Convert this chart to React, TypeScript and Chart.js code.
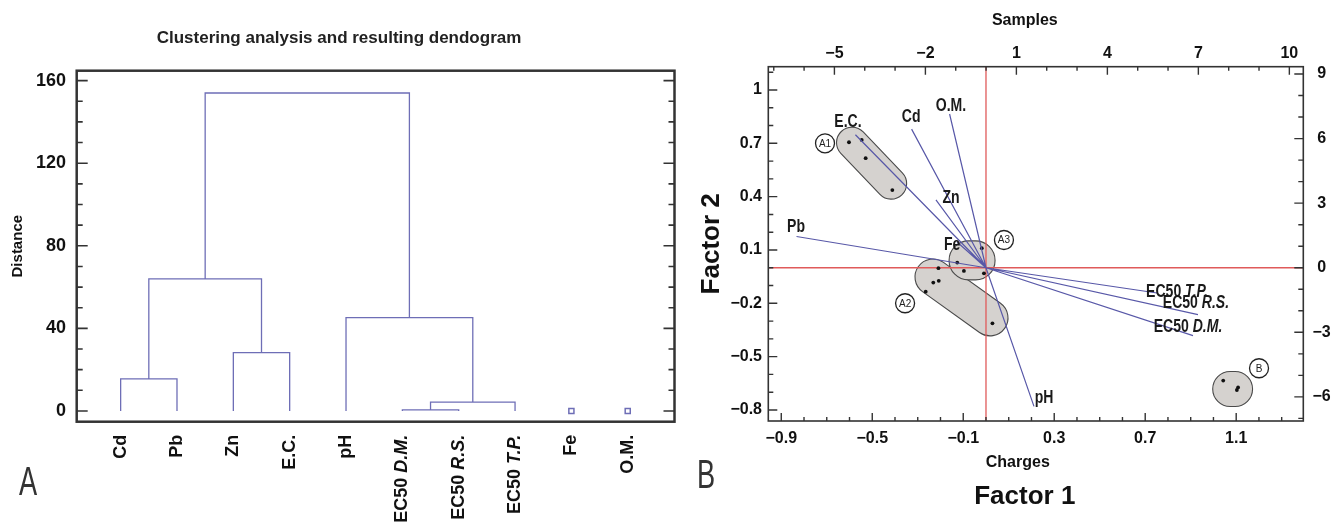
import React, { useEffect, useRef } from "react";
import { Chart, registerables } from "chart.js";

Chart.register(...registerables);

// ---------------- Panel A : dendrogram data ----------------
const leafNames = ["Cd", "Pb", "Zn", "E.C.", "pH", "EC50 ", "EC50 ", "EC50 ", "Fe", "O.M."];
const leafItalic = ["", "", "", "", "", "D.M.", "R.S.", "T.P.", "", ""];
// merges: node ids 0..9 are leaves, merge k creates node 10+k
const mergeLeft = [0, 2, 10, 5, 13, 4, 12];
const mergeRight = [1, 3, 11, 6, 7, 14, 15];
const mergeDistance = [15.5, 28.3, 64, 0.5, 4.3, 45.2, 154];
const unmergedLeaves = [8, 9];
const distanceTicks = [0, 40, 80, 120, 160];

// ---------------- Panel B : biplot data ----------------
const variableNames = ["Pb", "E.C.", "Cd", "O.M.", "Zn", "Fe", "pH", "EC50 ", "EC50 ", "EC50 "];
const variableItalic = ["", "", "", "", "", "", "", "T.P.", "R.S.", "D.M."];
const loadingF1 = [-0.833, -0.574, -0.327, -0.16, -0.22, -0.127, 0.211, 0.752, 0.932, 0.91];
const loadingF2 = [0.176, 0.748, 0.78, 0.865, 0.382, 0.145, -0.78, -0.142, -0.264, -0.382];
const labelF1 = [-0.835, -0.607, -0.329, -0.154, -0.154, -0.149, 0.255, 0.84, 0.923, 0.888];
const labelF2 = [0.23, 0.817, 0.85, 0.91, 0.393, 0.128, -0.732, -0.136, -0.198, -0.333];

const sampleS1 = [-4.52, -4.1, -3.97, -3.09, -0.14, -0.95, -0.73, -0.07, -1.57, -1.74, -1.56, -1.99, 0.21, 7.82, 8.27, 8.31];
const sampleS2 = [5.83, 5.94, 5.09, 3.61, 0.91, 0.24, -0.15, -0.26, -0.02, -0.69, -0.61, -1.11, -2.58, -5.24, -5.68, -5.56];

const clusterNames = ["A1", "A2", "A3", "B"];
const hullS1a = [-4.42, -1.75, -0.577, 8.05];
const hullS2a = [5.81, -0.43, 0.34, -5.63];
const hullS1b = [-3.13, 0.13, -0.346, 8.21];
const hullS2b = [3.91, -2.33, 0.34, -5.63];
const tagS1 = [-5.31, -2.67, 0.59, 9.0];
const tagS2 = [5.78, -1.65, 1.29, -4.67];

const chargeTicks = [-0.9, -0.5, -0.1, 0.3, 0.7, 1.1];
const factor2Ticks = [-0.8, -0.5, -0.2, 0.1, 0.4, 0.7, 1];
const sampleXTicks = [-5, -2, 1, 4, 7, 10];
const sampleYTicks = [-6, -3, 0, 3, 6, 9];

// ---------------- styling helpers ----------------
const FONT = '"Liberation Sans", Arial, Helvetica, sans-serif';
const HULL_RADIUS = [15.5, 18, 19.5, 17.5];

function hasFont(name: string) {
  const c = document.createElement("canvas").getContext("2d")!;
  c.font = "20px monospace";
  const a = c.measureText("abcdefghijklm 0123456789").width;
  c.font = `20px "${name}", monospace`;
  const b = c.measureText("abcdefghijklm 0123456789").width;
  return Math.abs(a - b) > 0.5;
}

function range(a: number, b: number, step: number) {
  const out: number[] = [];
  for (let v = a; v <= b + 1e-9; v += step) out.push(Math.round(v * 1000) / 1000);
  return out;
}
function minorsOf(all: number[], majors: number[]) {
  return all.filter((v) => !majors.some((m) => Math.abs(m - v) < 1e-6));
}
const fmt = (v: number) => String(Math.round(v * 100) / 100).replace("-", "\u2212");
const setTicks = (values: number[]) => (scale: any) => {
  scale.ticks = values.map((v) => ({ value: v }));
};

function drawTicks(ctx: CanvasRenderingContext2D, area: any, scale: any, side: string, values: number[], len: number) {
  ctx.beginPath();
  values.forEach((v) => {
    const p = scale.getPixelForValue(v);
    if (side === "left") { ctx.moveTo(area.left, p); ctx.lineTo(area.left + len, p); }
    if (side === "right") { ctx.moveTo(area.right, p); ctx.lineTo(area.right - len, p); }
    if (side === "top") { ctx.moveTo(p, area.top); ctx.lineTo(p, area.top + len); }
    if (side === "bottom") { ctx.moveTo(p, area.bottom); ctx.lineTo(p, area.bottom - len); }
  });
  ctx.stroke();
}

function drawMixed(ctx: CanvasRenderingContext2D, plain: string, italic: string, x: number, y: number, size: number, weight: string, sx: number) {
  const f1 = `${weight} ${size}px ${FONT}`;
  const f2 = `italic ${weight} ${size}px ${FONT}`;
  ctx.font = f1;
  const w1 = ctx.measureText(plain).width;
  ctx.font = f2;
  const w2 = italic ? ctx.measureText(italic).width : 0;
  ctx.save();
  ctx.translate(x, y);
  ctx.scale(sx, 1);
  ctx.textBaseline = "middle";
  ctx.textAlign = "left";
  const start = -(w1 + w2) / 2;
  ctx.font = f1;
  ctx.fillText(plain, start, 0);
  if (italic) { ctx.font = f2; ctx.fillText(italic, start + w1, 0); }
  ctx.restore();
}

function centeredText(ctx: CanvasRenderingContext2D, text: string, x: number, y: number, font: string) {
  ctx.font = font;
  ctx.textAlign = "center";
  ctx.textBaseline = "middle";
  ctx.fillText(text, x, y);
}

// ---------------- Panel A config ----------------
function buildDendrogram() {
  const nodeX: number[] = leafNames.map((_, i) => i + 1);
  const nodeH: number[] = leafNames.map(() => 0);
  const pts: any[] = [];
  mergeLeft.forEach((a, k) => {
    const b = mergeRight[k];
    const h = mergeDistance[k];
    pts.push({ x: nodeX[a], y: nodeH[a] }, { x: nodeX[a], y: h }, { x: nodeX[b], y: h }, { x: nodeX[b], y: nodeH[b] }, { x: nodeX[b], y: null });
    nodeX.push((nodeX[a] + nodeX[b]) / 2);
    nodeH.push(h);
  });
  return pts;
}

function configA(): any {
  const dendroColor = "#6e6eb6";
  const panelA = {
    id: "panelA",
    afterDraw(chart: any) {
      const { ctx, chartArea: area, scales } = chart;
      const xs = scales.x, ys = scales.y;
      ctx.save();
      ctx.strokeStyle = "#333";
      ctx.lineWidth = 2.5;
      ctx.strokeRect(area.left, area.top, area.right - area.left, area.bottom - area.top);
      ctx.lineWidth = 1.6;
      const minors = minorsOf(range(0, 160, 10), distanceTicks);
      drawTicks(ctx, area, ys, "left", distanceTicks, 11);
      drawTicks(ctx, area, ys, "left", minors, 6);
      drawTicks(ctx, area, ys, "right", distanceTicks, 11);
      drawTicks(ctx, area, ys, "right", minors, 6);
      // leaf labels, rotated
      ctx.fillStyle = "#111";
      leafNames.forEach((name, i) => {
        const x = xs.getPixelForValue(i + 1);
        const y = area.bottom + 13;
        const f1 = `bold 18px ${FONT}`;
        const f2 = `italic bold 18px ${FONT}`;
        ctx.font = f1;
        const w1 = ctx.measureText(name).width;
        ctx.font = f2;
        const w2 = leafItalic[i] ? ctx.measureText(leafItalic[i]).width : 0;
        ctx.save();
        ctx.translate(x, y);
        ctx.rotate(-Math.PI / 2);
        ctx.textBaseline = "middle";
        ctx.textAlign = "left";
        ctx.font = f1;
        ctx.fillText(name, -(w1 + w2), 0);
        if (w2) { ctx.font = f2; ctx.fillText(leafItalic[i], -w2, 0); }
        ctx.restore();
      });
      // panel letter
      ctx.fillStyle = "#333";
      ctx.save();
      ctx.translate(28, 484);
      ctx.scale(0.68, 1);
      ctx.font = `normal 40px ${FONT}`;
      ctx.textAlign = "center";
      ctx.textBaseline = "middle";
      ctx.fillText("A", 0, 0);
      ctx.restore();
      ctx.restore();
    },
  };
  return {
    type: "line",
    data: {
      datasets: [
        {
          type: "line",
          data: buildDendrogram(),
          borderColor: dendroColor,
          borderWidth: 1.3,
          pointRadius: 0,
          spanGaps: false,
          tension: 0,
        },
        {
          type: "scatter",
          data: unmergedLeaves.map((i) => ({ x: i + 1, y: 0 })),
          pointStyle: "rect",
          pointRadius: 3.6,
          borderColor: dendroColor,
          backgroundColor: "#fff",
          borderWidth: 1.5,
        },
      ],
    },
    options: {
      responsive: false,
      animation: false,
      events: [],
      layout: { padding: { left: 0, right: 2, top: 0, bottom: 0 } },
      plugins: {
        legend: { display: false },
        tooltip: { enabled: false },
        title: {
          display: true,
          text: "Clustering analysis and resulting dendogram",
          color: "#222",
          font: { family: FONT, size: 17, weight: "bold" },
          padding: { top: 27.8, bottom: 22.5 },
        },
      },
      scales: {
        x: {
          type: "linear",
          min: 0.22,
          max: 10.83,
          grid: { display: false, drawTicks: false },
          border: { display: false },
          ticks: { display: false },
          afterFit: (s: any) => { s.height = 108.3; },
        },
        y: {
          type: "linear",
          min: -5.2,
          max: 164.8,
          grid: { display: false, drawTicks: false },
          border: { display: false },
          afterBuildTicks: setTicks(distanceTicks),
          ticks: { color: "#111", font: { family: FONT, size: 18, weight: "bold" }, padding: 10.7, callback: fmt, autoSkip: false },
          title: { display: true, text: "Distance", color: "#111", font: { family: FONT, size: 15, weight: "bold" }, padding: { top: 9, bottom: 0 } },
          afterFit: (s: any) => { s.width = 76.7; },
        },
      },
    },
    plugins: [panelA],
  };
}

// ---------------- Panel B config ----------------
function configB(narrow: boolean): any {
  const tickFont = narrow
    ? { family: '"Liberation Sans Narrow", ' + FONT, size: 18, weight: "bold" }
    : { family: FONT, size: 16, weight: "bold" };
  const loadColor = "#5858a8";
  const loadingPts: any[] = [];
  loadingF1.forEach((v, i) => {
    loadingPts.push({ x: 0, y: 0 }, { x: v, y: loadingF2[i] }, { x: v, y: null });
  });

  const panelB = {
    id: "panelB",
    beforeDatasetsDraw(chart: any) {
      const { ctx, chartArea: area, scales } = chart;
      const xs = scales.x2, ys = scales.y2;
      ctx.save();
      ctx.beginPath();
      ctx.rect(area.left, area.top, area.right - area.left, area.bottom - area.top);
      ctx.clip();
      // cluster hulls
      clusterNames.forEach((_, k) => {
        const x1 = xs.getPixelForValue(hullS1a[k]), y1 = ys.getPixelForValue(hullS2a[k]);
        const x2 = xs.getPixelForValue(hullS1b[k]), y2 = ys.getPixelForValue(hullS2b[k]);
        const r = HULL_RADIUS[k];
        const th = Math.atan2(y2 - y1, x2 - x1);
        ctx.beginPath();
        ctx.arc(x2, y2, r, th - Math.PI / 2, th + Math.PI / 2);
        ctx.arc(x1, y1, r, th + Math.PI / 2, th + (3 * Math.PI) / 2);
        ctx.closePath();
        ctx.fillStyle = "#d5d2cf";
        ctx.fill();
        ctx.strokeStyle = "#4a4a4a";
        ctx.lineWidth = 1.1;
        ctx.stroke();
      });
      // red reference axes
      const x0 = scales.x.getPixelForValue(0);
      const y0 = scales.y.getPixelForValue(0);
      ctx.strokeStyle = "#e05a5a";
      ctx.lineWidth = 1.3;
      ctx.beginPath();
      ctx.moveTo(x0, area.top); ctx.lineTo(x0, area.bottom);
      ctx.moveTo(area.left, y0); ctx.lineTo(area.right, y0);
      ctx.stroke();
      ctx.restore();
    },
    afterDatasetsDraw(chart: any) {
      const { ctx, chartArea: area, scales } = chart;
      ctx.save();
      // variable labels
      ctx.fillStyle = "#1a1a1a";
      variableNames.forEach((name, i) => {
        drawMixed(ctx, name, variableItalic[i], scales.x.getPixelForValue(labelF1[i]), scales.y.getPixelForValue(labelF2[i]), 18, "bold", 0.78);
      });
      // cluster tags
      clusterNames.forEach((name, k) => {
        const x = scales.x2.getPixelForValue(tagS1[k]);
        const y = scales.y2.getPixelForValue(tagS2[k]);
        ctx.beginPath();
        ctx.arc(x, y, 9.5, 0, Math.PI * 2);
        ctx.fillStyle = "#fff";
        ctx.fill();
        ctx.strokeStyle = "#222";
        ctx.lineWidth = 1.3;
        ctx.stroke();
        ctx.fillStyle = "#222";
        ctx.font = `10px ${FONT}`;
        ctx.textAlign = "center";
        ctx.textBaseline = "middle";
        ctx.fillText(name, x, y + 0.5);
      });
      // frame and inward ticks
      ctx.strokeStyle = "#333";
      ctx.lineWidth = 1.6;
      ctx.strokeRect(area.left, area.top, area.right - area.left, area.bottom - area.top);
      ctx.lineWidth = 1.4;
      drawTicks(ctx, area, scales.x, "bottom", chargeTicks, 8);
      drawTicks(ctx, area, scales.x, "bottom", minorsOf(range(-0.9, 1.3, 0.1), chargeTicks), 4);
      drawTicks(ctx, area, scales.y, "left", factor2Ticks, 9);
      drawTicks(ctx, area, scales.y, "left", minorsOf(range(-0.8, 1.1, 0.1), factor2Ticks), 5);
      drawTicks(ctx, area, scales.x2, "top", sampleXTicks, 8);
      drawTicks(ctx, area, scales.x2, "top", minorsOf(range(-7, 10, 1), sampleXTicks), 4);
      drawTicks(ctx, area, scales.y2, "right", sampleYTicks, 9);
      drawTicks(ctx, area, scales.y2, "right", minorsOf(range(-7, 9, 1), sampleYTicks), 5);
      // axis titles, Factor 1 and panel letter
      const mid = (area.left + area.right) / 2;
      ctx.fillStyle = "#111";
      centeredText(ctx, "Samples", mid - 11, 21, `bold 16px ${FONT}`);
      centeredText(ctx, "Charges", mid - 18, 463, `bold 16px ${FONT}`);
      centeredText(ctx, "Factor 1", mid - 11, 497, `bold 26px ${FONT}`);
      ctx.fillStyle = "#333";
      ctx.save();
      ctx.translate(26, 477);
      ctx.scale(0.68, 1);
      centeredText(ctx, "B", 0, 0, `normal 40px ${FONT}`);
      ctx.restore();
      ctx.restore();
    },
  };

  const baseAxis = {
    type: "linear",
    grid: { display: false, drawTicks: false },
    border: { display: false },
  };

  return {
    type: "line",
    data: {
      datasets: [
        {
          type: "line",
          data: loadingPts,
          xAxisID: "x",
          yAxisID: "y",
          borderColor: loadColor,
          borderWidth: 1.2,
          pointRadius: 0,
          spanGaps: false,
          tension: 0,
        },
        {
          type: "scatter",
          data: sampleS1.map((v, i) => ({ x: v, y: sampleS2[i] })),
          xAxisID: "x2",
          yAxisID: "y2",
          pointRadius: 1.9,
          backgroundColor: "#111",
          borderColor: "#111",
          borderWidth: 0,
        },
      ],
    },
    options: {
      responsive: false,
      animation: false,
      events: [],
      layout: { padding: 0 },
      plugins: { legend: { display: false }, tooltip: { enabled: false }, title: { display: false } },
      scales: {
        x: {
          ...baseAxis,
          position: "bottom",
          min: -0.957,
          max: 1.395,
          afterBuildTicks: setTicks(chargeTicks),
          ticks: { color: "#111", font: tickFont, padding: 8.2, callback: fmt, autoSkip: false, maxRotation: 0 },
          afterFit: (s: any) => { s.height = 109; },
        },
        x2: {
          ...baseAxis,
          position: "top",
          min: -7.18,
          max: 10.46,
          afterBuildTicks: setTicks(sampleXTicks),
          ticks: { color: "#111", font: tickFont, padding: 3.9, callback: fmt, autoSkip: false, maxRotation: 0 },
          afterFit: (s: any) => { s.height = 66.7; },
        },
        y: {
          ...baseAxis,
          position: "left",
          min: -0.862,
          max: 1.131,
          afterBuildTicks: setTicks(factor2Ticks),
          ticks: { color: "#111", font: tickFont, padding: 6.3, callback: fmt, autoSkip: false },
          title: { display: true, text: "Factor 2", color: "#111", font: { family: FONT, size: 26, weight: "bold" }, padding: { top: 16.4, bottom: 0 } },
          afterFit: (s: any) => { s.width = 88.3; },
        },
        y2: {
          ...baseAxis,
          position: "right",
          min: -7.12,
          max: 9.34,
          afterBuildTicks: setTicks(sampleYTicks),
          ticks: { color: "#111", font: tickFont, padding: 9.2, callback: fmt, autoSkip: false, crossAlign: "center" },
          afterFit: (s: any) => { s.width = 37.7; },
        },
      },
    },
    plugins: [panelB],
  };
}

export default function App() {
  const refA = useRef<HTMLCanvasElement>(null);
  const refB = useRef<HTMLCanvasElement>(null);
  useEffect(() => {
    const narrow = hasFont("Liberation Sans Narrow");
    const a = new Chart(refA.current!, configA());
    const b = new Chart(refB.current!, configB(narrow));
    return () => {
      a.destroy();
      b.destroy();
    };
  }, []);
  return (
    <div style={{ position: "fixed", left: 0, top: 0, width: 1341, height: 530, background: "#fff" }}>
      <canvas ref={refA} width={680} height={530} style={{ position: "absolute", left: 0, top: 0, width: 680, height: 530 }} />
      <canvas ref={refB} width={661} height={530} style={{ position: "absolute", left: 680, top: 0, width: 661, height: 530 }} />
    </div>
  );
}
